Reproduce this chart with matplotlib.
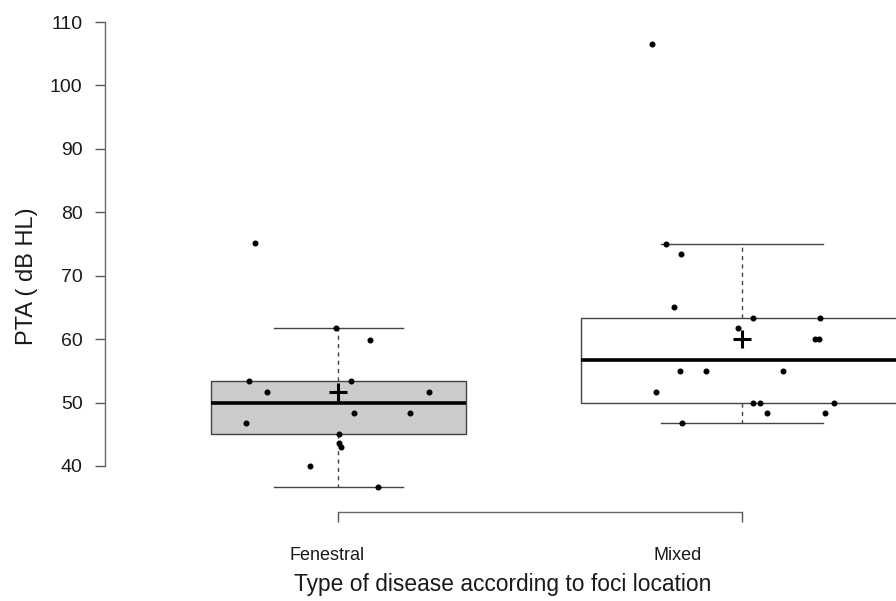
"""Boxplot of PTA by type of disease (foci location)."""
import matplotlib
matplotlib.use("Agg")
import matplotlib.pyplot as plt

# Data
groups = ["Fenestral", "Mixed"]
positions = [1, 2]
q1 = [45.0, 50.0]
medians = [50.0, 56.7]
q3 = [53.4, 63.3]
whislo = [36.7, 46.7]
whishi = [61.7, 75.0]
means = [51.6, 60.0]

# jittered observations (x position, value)
fen_x = [0.994, 1.079, 0.777, 1.030, 0.824, 1.224, 1.039, 1.178, 0.770,
         1.001, 1.001, 1.007, 0.929, 1.098, 0.793]
fen_y = [61.7, 59.9, 53.4, 53.4, 51.7, 51.7, 48.3, 48.3, 46.7,
         45.0, 43.6, 43.0, 40.0, 36.7, 75.2]
mix_x = [1.812, 1.850, 1.831, 2.028, 2.193, 1.989, 2.182, 2.190, 1.847,
         1.911, 2.102, 1.786, 2.027, 2.045, 2.228, 2.063, 2.206, 1.851, 1.777]
mix_y = [75.0, 73.4, 65.0, 63.4, 63.4, 61.7, 60.0, 60.0, 55.0,
         55.0, 55.0, 51.7, 50.0, 50.0, 50.0, 48.4, 48.4, 46.7, 106.6]

plt.rcParams.update({
    "font.family": ["Liberation Sans", "DejaVu Sans"],
    "text.color": "#1a1a1a",
    "xtick.color": "#555555",
    "ytick.color": "#555555",
})

fig = plt.figure(figsize=(8.96, 6.01), dpi=100)
ax = fig.add_axes([105 / 896, 89 / 601, 791 / 896, 512 / 601])

stats = []
for i in range(len(groups)):
    stats.append({"label": groups[i], "q1": q1[i], "med": medians[i], "q3": q3[i],
                  "whislo": whislo[i], "whishi": whishi[i], "mean": means[i]})

bp = ax.bxp(stats, positions=positions, widths=[0.634, 0.80], capwidths=[0.32, 0.40],
            showmeans=True, showfliers=False, patch_artist=True,
            boxprops=dict(edgecolor="#444444", linewidth=1.0),
            whiskerprops=dict(color="#444444", linewidth=1.0, linestyle=(0, (3, 3))),
            capprops=dict(color="#444444", linewidth=1.0),
            medianprops=dict(color="black", linewidth=2.6),
            meanprops=dict(marker="+", markersize=13, markeredgewidth=2.2,
                           markeredgecolor="black"))
bp["boxes"][0].set_facecolor("#cccccc")
bp["boxes"][1].set_facecolor("white")

ax.scatter(fen_x, fen_y, s=11, color="black", zorder=5, clip_on=False)
ax.scatter(mix_x, mix_y, s=11, color="black", zorder=5)

ax.set_xlim(0.4213, 2.3817)
ax.set_ylim(32.74, 113.47)

for s in ["top", "right"]:
    ax.spines[s].set_visible(False)
for s in ["left", "bottom"]:
    ax.spines[s].set_color("#666666")
    ax.spines[s].set_linewidth(1.0)
ax.spines["left"].set_bounds(40, 110)
ax.spines["bottom"].set_bounds(1, 2)

ax.set_yticks(range(40, 111, 10))
ax.tick_params(axis="y", length=7.2, width=1.0, pad=9, labelsize=14,
               labelcolor="#1a1a1a")
ax.set_xticks(positions)
ax.set_xticklabels([])
ax.tick_params(axis="x", length=7.2, width=1.0)

# category labels and axis titles
fig.text(327 / 896, 1 - 556 / 601, groups[0], ha="center", va="center", fontsize=13)
fig.text(678 / 896, 1 - 556 / 601, groups[1], ha="center", va="center", fontsize=13)
fig.text(503 / 896, 1 - 584 / 601, "Type of disease according to foci location",
         ha="center", va="center", fontsize=16.4)
fig.text(27 / 896, 1 - 276 / 601, "PTA ( dB HL)", ha="center", va="center",
         rotation=90, fontsize=17)

fig.savefig("out.png", dpi=100, facecolor="white")
